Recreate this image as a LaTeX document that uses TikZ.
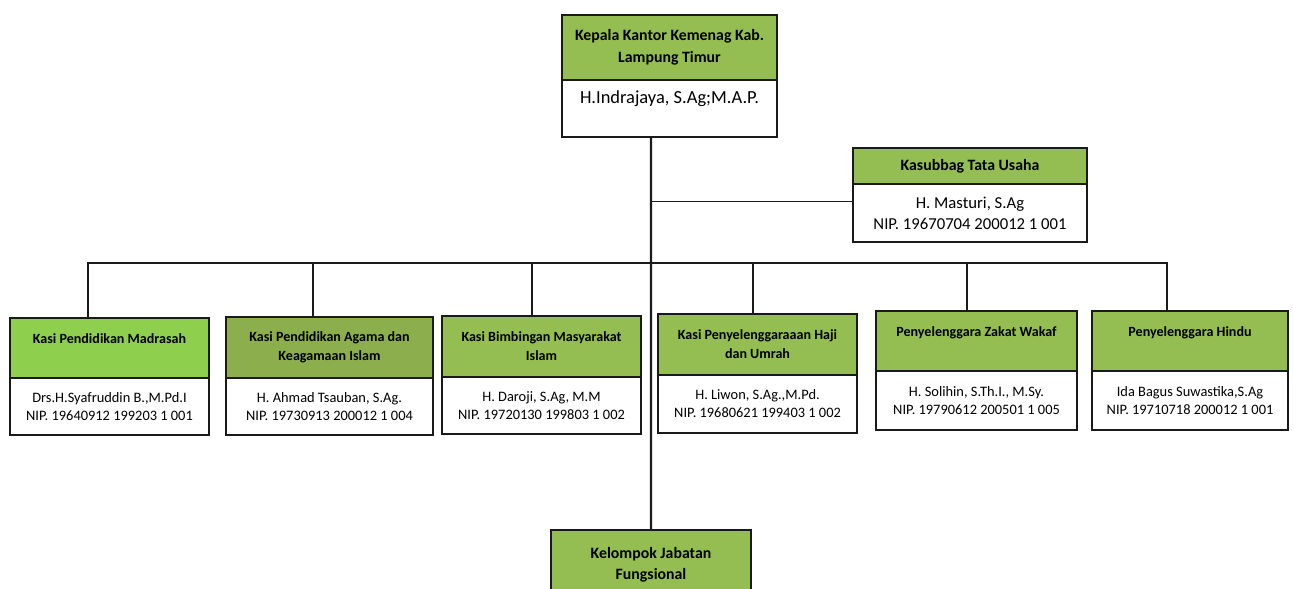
\documentclass[tikz,border=0pt]{standalone}
\usepackage{fontspec}
\setmainfont{Carlito}
\usepackage{tikz}
\usetikzlibrary{positioning}
\definecolor{kemenaglime}{HTML}{8FCF4E}
\definecolor{kemenagolive}{HTML}{94BD52}
\definecolor{kemenagmoss}{HTML}{8CAE4C}
\definecolor{boxline}{HTML}{1A1A1A}

\begin{document}
\begin{tikzpicture}[
    x=0.02cm, y=-0.02cm,
    hdr/.style={draw=boxline, line width=1pt, fill=kemenagolive, align=center,
                inner sep=1pt, font=\fontsize{8}{11}\selectfont\bfseries},
    bdy/.style={draw=boxline, line width=1pt, fill=white, align=center,
                inner sep=1pt, font=\fontsize{8.2}{10.2}\selectfont},
    conn/.style={draw=boxline, line width=0.8pt},
    spine/.style={draw=boxline, line width=1.3pt}
  ]
  \useasboundingbox[fill=white] (0,0) rectangle (1293,588);

  % head of office
  \node[hdr, anchor=north, minimum width=4.3cm, minimum height=1.3cm,
        font=\fontsize{9}{13}\selectfont\bfseries] (kepalah) at (669.5,14)
    {Kepala Kantor Kemenag Kab.\\Lampung Timur};
  \node[bdy, below=-1pt of kepalah, minimum width=4.3cm, minimum height=1.14cm,
        font=\fontsize{10.5}{13}\selectfont] (kepalab)
    {H.Indrajaya, S.Ag;M.A.P.\\\mbox{}};

  % administration
  \node[hdr, anchor=north, minimum width=4.68cm, minimum height=0.72cm,
        font=\fontsize{9}{12}\selectfont\bfseries] (kasubbagh) at (970,147)
    {Kasubbag Tata Usaha};
  \node[bdy, below=-1pt of kasubbagh, minimum width=4.68cm, minimum height=1.16cm,
        font=\fontsize{9.5}{12}\selectfont] (kasubbagb)
    {H. Masturi, S.Ag\\NIP. 19670704 200012 1 001};

  % sections
  \node[hdr, anchor=north, fill=kemenaglime, minimum width=3.98cm,
        minimum height=1.2cm] (kasi1h) at (109.5,317)
    {Kasi Pendidikan Madrasah\\\mbox{}};
  \node[bdy, below=-1pt of kasi1h, minimum width=3.98cm, minimum height=1.14cm] (kasi1b)
    {Drs.H.Syafruddin B.,M.Pd.I\\NIP. 19640912 199203 1 001};

  \node[hdr, anchor=north, fill=kemenagmoss, minimum width=4.14cm,
        minimum height=1.22cm] (kasi2h) at (329.5,316)
    {Kasi Pendidikan Agama dan\\Keagamaan Islam};
  \node[bdy, below=-1pt of kasi2h, minimum width=4.14cm, minimum height=1.14cm] (kasi2b)
    {H. Ahmad Tsauban, S.Ag.\\NIP. 19730913 200012 1 004};

  \node[hdr, anchor=north, minimum width=3.98cm, minimum height=1.22cm] (kasi3h)
    at (541.5,315)
    {Kasi Bimbingan Masyarakat\\Islam};
  \node[bdy, below=-1pt of kasi3h, minimum width=3.98cm, minimum height=1.14cm] (kasi3b)
    {H. Daroji, S.Ag, M.M\\NIP. 19720130 199803 1 002};

  \node[hdr, anchor=north, minimum width=3.98cm, minimum height=1.22cm] (kasi4h)
    at (757.5,313)
    {Kasi Penyelenggaraaan Haji\\dan Umrah};
  \node[bdy, below=-1pt of kasi4h, minimum width=3.98cm, minimum height=1.16cm] (kasi4b)
    {H. Liwon, S.Ag.,M.Pd.\\NIP. 19680621 199403 1 002};

  \node[hdr, anchor=north, minimum width=4.02cm, minimum height=1.2cm] (zakath)
    at (976.5,310)
    {Penyelenggara Zakat Wakaf\\\mbox{}};
  \node[bdy, below=-1pt of zakath, minimum width=4.02cm, minimum height=1.18cm] (zakatb)
    {H. Solihin, S.Th.I., M.Sy.\\NIP. 19790612 200501 1 005};

  \node[hdr, anchor=north, minimum width=3.92cm, minimum height=1.2cm] (hinduh)
    at (1190,310)
    {Penyelenggara Hindu\\\mbox{}};
  \node[bdy, below=-1pt of hinduh, minimum width=3.92cm, minimum height=1.18cm] (hindub)
    {Ida Bagus Suwastika,S.Ag\\NIP. 19710718 200012 1 001};

  % functional group
  \node[hdr, anchor=north, minimum width=4cm, minimum height=1.4cm,
        font=\fontsize{9}{12}\selectfont\bfseries] (fungsional) at (651,529)
    {Kelompok Jabatan\\Fungsional};

  % connectors
  \coordinate (bus) at (651,263);
  \draw[spine] ([xshift=-0.37cm]kepalab.south) -- (fungsional.north);
  \draw[conn] ([yshift=0.23cm]kasubbagb.west) -| (bus);
  \draw[conn] ([xshift=-0.43cm]kasi1h.north) |- (bus);
  \draw[conn] ([xshift=-0.33cm]kasi2h.north) |- (bus);
  \draw[conn] ([xshift=-0.19cm]kasi3h.north) |- (bus);
  \draw[conn] ([xshift=-0.09cm]kasi4h.north) |- (bus);
  \draw[conn] ([xshift=-0.19cm]zakath.north) |- (bus);
  \draw[conn] ([xshift=-0.46cm]hinduh.north) |- (bus);
\end{tikzpicture}
\end{document}
